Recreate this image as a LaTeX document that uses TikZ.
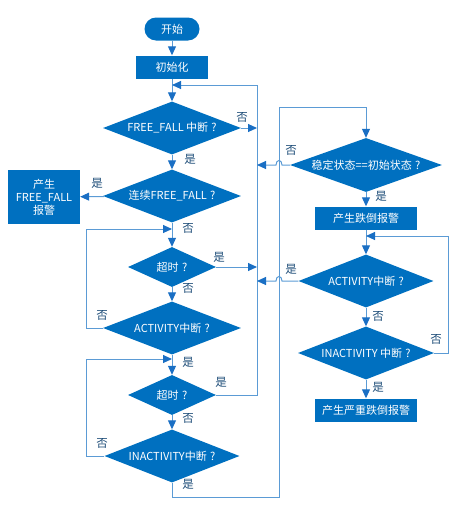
\documentclass[tikz,border=0pt]{standalone}
\usepackage{fontspec}
\setmainfont{Noto Sans CJK SC}
\usetikzlibrary{shapes.geometric, arrows.meta, positioning}
\definecolor{flowblue}{HTML}{0070C0}
\definecolor{linkblue}{HTML}{5B9BD5}
\definecolor{tipblue}{HTML}{1A6FC4}
\definecolor{labelblue}{HTML}{1F4E79}
\newcommand{\askmark}{\hspace{0.3em}?}
\tikzset{
  startstop/.style={rectangle, fill=flowblue, text=white, rounded corners=11.5pt,
                minimum width=55pt, minimum height=23pt, font=\fontsize{11}{12}\selectfont},
  block/.style={rectangle, fill=flowblue, text=white, align=center, inner sep=1pt,
                minimum width=72pt, minimum height=23pt, font=\fontsize{11}{13}\selectfont},
  decision/.style={diamond, fill=flowblue, text=white, inner sep=0pt, shape aspect=2.6,
                minimum width=138pt, minimum height=53pt, font=\fontsize{11}{12}\selectfont},
  smalldecision/.style={decision, shape aspect=2.2, minimum width=88pt, minimum height=40pt},
  arrow/.style={-{Triangle[length=9pt, width=8pt, color=tipblue]}, line width=1pt, draw=linkblue},
  label/.style={font=\fontsize{11.5}{12}\selectfont, text=labelblue, inner sep=0pt},
}
\begin{document}
\begin{tikzpicture}[x=1pt, y=-1pt]
  \useasboundingbox (0,0) rectangle (458,514);
  % left column
  \node[startstop] (start) at (172,29) {开始};
  \node[block] (init) at (172,67) {初始化};
  \node[decision] (ff) at (172,128) {FREE\_FALL 中断\askmark};
  \node[decision] (cff) at (172,196) {连续FREE\_FALL\askmark};
  \node[block, minimum height=54pt] (ffalarm) at (44,197) {产生\\FREE\_FALL\\报警};
  \node[smalldecision] (tmo1) at (172,267) {超时\askmark};
  \node[decision] (act) at (172,328) {ACTIVITY中断\askmark};
  \node[smalldecision] (tmo2) at (172,395) {超时\askmark};
  \node[decision, minimum width=135pt] (inact) at (172,456) {INACTIVITY中断\askmark};
  % right column
  \node[decision, shape aspect=2.8, minimum width=152pt, minimum height=54pt] (stable) at (366,165) {稳定状态==初始状态\askmark};
  \node[block, minimum width=102pt] (fall) at (366,218) {产生跌倒报警};
  \node[decision, minimum width=135pt] (ract) at (366,281) {ACTIVITY中断\askmark};
  \node[decision, minimum width=136pt] (rinact) at (366,353) {INACTIVITY 中断\askmark};
  \node[block, minimum width=102pt] (severe) at (366,410) {产生严重跌倒报警};
  % turning points
  \coordinate (busTop) at (257,85);
  \coordinate (busBot) at (257,395);
  \coordinate (loopA) at (86,229);
  \coordinate (loopB) at (86,359);
  \coordinate (riseBot) at (279,497);
  \coordinate (riseTop) at (279,107);
  \coordinate (loopC) at (448,236);
  % main flow
  \draw[arrow] (start) -- (init);
  \draw[arrow] (init) -- (ff);
  \draw[arrow] (ff) -- (cff);
  \draw[arrow] (cff) -- (ffalarm);
  \draw[arrow] (cff) -- (tmo1);
  \draw[arrow] (tmo1) -- (act);
  \draw[arrow] (act) -- (tmo2);
  \draw[arrow] (tmo2) -- (inact);
  \draw[arrow] (stable) -- (fall);
  \draw[arrow] (fall) -- (ract);
  \draw[arrow] (ract) -- (rinact);
  \draw[arrow] (rinact) -- (severe);
  % back to FREE_FALL
  \draw[arrow] (ff.east) -- (ff.east -| busTop);
  \draw[arrow] (tmo1.east) -- (tmo1.east -| busTop);
  \draw[arrow] (tmo2.east) -- (busBot) -- (busTop) -- (busTop -| init);
  % left loops
  \draw[arrow] (act.west) -- (act.west -| loopA) -- (loopA) -- (loopA -| cff);
  \draw[arrow] (inact.west) -- (inact.west -| loopB) -- (loopB) -- (loopB -| tmo2);
  % to right column
  \draw[arrow] (inact.south) -- (inact.south |- riseBot) -- (riseBot) -- (riseTop) -- (riseTop -| stable) -- (stable.north);
  \draw[arrow] (stable.west) -- ([xshift=3pt]stable.west -| riseTop)
    .. controls +(0,-6) and +(0,-6) .. ([xshift=-3pt]stable.west -| riseTop) -- (stable.west -| busTop);
  \draw[arrow] (ract.west) -- ([xshift=3pt]ract.west -| riseTop)
    .. controls +(0,-6) and +(0,-6) .. ([xshift=-3pt]ract.west -| riseTop) -- (ract.west -| busTop);
  \draw[arrow] (rinact.east) -- (rinact.east -| loopC) -- (loopC) -- (loopC -| fall);
  % labels
  \node[label] (ffno) at (242,117) {否};
  \node[label] (ffyes) at (190,159) {是};
  \node[label] (cffyes) at (97,183) {是};
  \node[label] (cffno) at (188,228) {否};
  \node[label] (tmo1yes) at (219,257) {是};
  \node[label] (tmo1no) at (188,288) {否};
  \node[label] (actno) at (102,315) {否};
  \node[label] (actyes) at (188,362) {是};
  \node[label] (tmo2yes) at (221,382) {是};
  \node[label] (tmo2no) at (188,418) {否};
  \node[label] (inactno) at (102,443) {否};
  \node[label] (inactyes) at (188,484) {是};
  \node[label] (stableno) at (291,150) {否};
  \node[label] (stableyes) at (381,196) {是};
  \node[label] (ractyes) at (291,269) {是};
  \node[label] (ractno) at (378,316) {否};
  \node[label] (rinactno) at (436,339) {否};
  \node[label] (rinactyes) at (378,387) {是};
\end{tikzpicture}
\end{document}
